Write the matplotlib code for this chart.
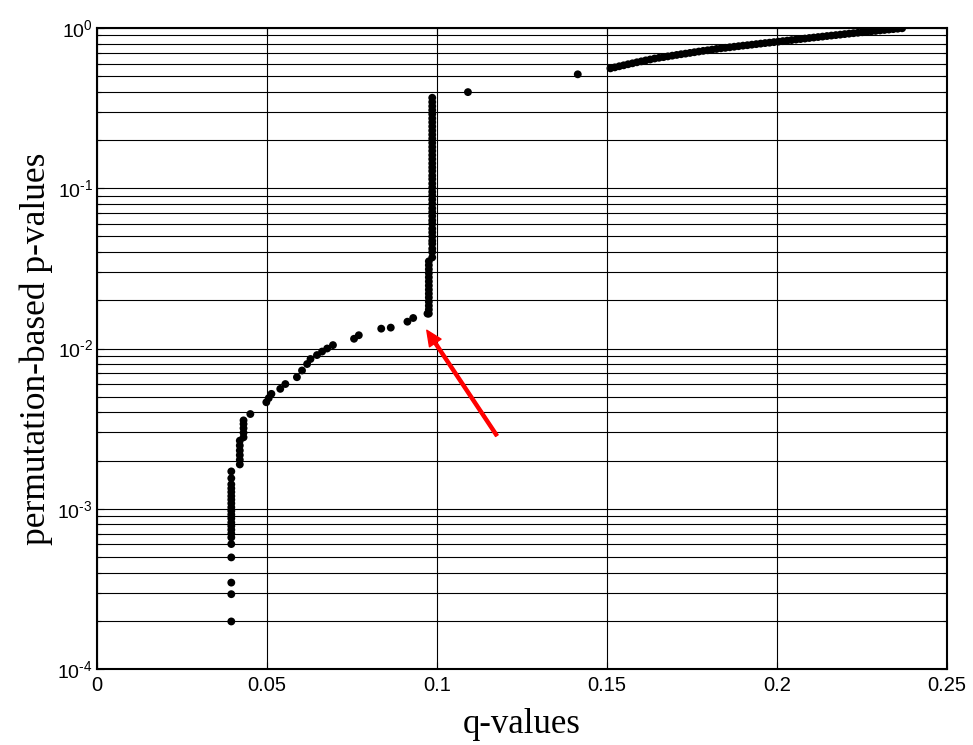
import matplotlib
matplotlib.use("Agg")
import matplotlib.pyplot as plt
from matplotlib.ticker import FixedLocator, FixedFormatter, LogLocator, NullFormatter

plt.rcParams['font.family'] = ['Liberation Sans', 'DejaVu Sans']
plt.rcParams['mathtext.fontset'] = 'custom'
plt.rcParams['mathtext.rm'] = 'Liberation Sans'
plt.rcParams['mathtext.it'] = 'Liberation Sans:italic'
plt.rcParams['mathtext.default'] = 'regular'
plt.rcParams['axes.unicode_minus'] = False

# ---- data (q-value, permutation p-value) ----
q_low = [0.0395, 0.0395, 0.0395, 0.0395, 0.0395,
         0.0395, 0.0395, 0.0395, 0.0395, 0.0395, 0.0395, 0.0395, 0.0395, 0.0395,
         0.0395, 0.0395, 0.0395, 0.0395, 0.0395, 0.0395, 0.0395, 0.0395,
         0.0420, 0.0420, 0.0420, 0.0420, 0.0420, 0.0420,
         0.0431, 0.0431, 0.0431, 0.0431, 0.0431, 0.0451]
p_low = [1.98e-4, 2.93e-4, 3.46e-4, 4.97e-4, 6.02e-4,
         6.62e-4, 7.0e-4, 7.4e-4, 7.8e-4, 8.2e-4, 8.7e-4, 9.2e-4, 9.7e-4, 1.02e-3,
         1.08e-3, 1.14e-3, 1.20e-3, 1.27e-3, 1.34e-3, 1.42e-3, 1.55e-3, 1.71e-3,
         1.89e-3, 2.02e-3, 2.16e-3, 2.31e-3, 2.48e-3, 2.66e-3,
         2.79e-3, 2.98e-3, 3.18e-3, 3.38e-3, 3.56e-3, 3.90e-3]

q_mid = [0.0498, 0.0505, 0.0513, 0.0539, 0.0554, 0.0588, 0.0603, 0.0618, 0.0628,
         0.0647, 0.0662, 0.0677, 0.0694, 0.0756, 0.0770, 0.0836, 0.0864,
         0.0913, 0.0930, 0.0972]
p_mid = [4.62e-3, 4.90e-3, 5.21e-3, 5.60e-3, 6.00e-3, 6.62e-3, 7.29e-3, 8.00e-3, 8.60e-3,
         9.10e-3, 9.57e-3, 1.00e-2, 1.05e-2, 1.15e-2, 1.21e-2, 1.33e-2, 1.35e-2,
         1.47e-2, 1.55e-2, 1.65e-2]

q_col_low = [0.0976] * 14
p_col_low = [0.0165, 0.0175, 0.0185, 0.0196, 0.0208, 0.0220, 0.0233, 0.0247,
             0.0262, 0.0278, 0.0295, 0.0312, 0.0331, 0.0350]

q_col_high = [0.0986] * 40
p_col_high = [0.367, 0.345, 0.325, 0.307, 0.290, 0.273, 0.258, 0.243, 0.229, 0.216,
              0.204, 0.192, 0.181, 0.171, 0.161, 0.152, 0.143, 0.135, 0.128, 0.120,
              0.114, 0.107, 0.101, 0.095, 0.090, 0.085, 0.080, 0.075, 0.071, 0.067,
              0.063, 0.060, 0.056, 0.053, 0.050, 0.047, 0.045, 0.042, 0.040, 0.037]

q_iso = [0.1091, 0.1414]
p_iso = [0.398, 0.514]

q_high = [0.1510, 0.1523, 0.1536, 0.1549, 0.1562, 0.1575, 0.1588, 0.1601, 0.1614, 0.1627,
          0.1640, 0.1653, 0.1666, 0.1679, 0.1692, 0.1705, 0.1718, 0.1731, 0.1744, 0.1757,
          0.1770, 0.1783, 0.1796, 0.1809, 0.1822, 0.1835, 0.1848, 0.1861, 0.1874, 0.1887,
          0.1900, 0.1913, 0.1926, 0.1939, 0.1952, 0.1965, 0.1978, 0.1991, 0.2004, 0.2017,
          0.2030, 0.2043, 0.2056, 0.2069, 0.2082, 0.2095, 0.2108, 0.2121, 0.2134, 0.2147,
          0.2160, 0.2173, 0.2186, 0.2199, 0.2212, 0.2225, 0.2238, 0.2251, 0.2264, 0.2277,
          0.2290, 0.2303, 0.2316, 0.2329, 0.2342, 0.2355, 0.2368]
p_high = [0.560, 0.568, 0.577, 0.585, 0.594, 0.602, 0.611, 0.619, 0.628, 0.636,
          0.645, 0.652, 0.658, 0.665, 0.672, 0.679, 0.686, 0.692, 0.699, 0.706,
          0.713, 0.720, 0.726, 0.733, 0.740, 0.747, 0.752, 0.758, 0.764, 0.770,
          0.776, 0.781, 0.787, 0.793, 0.799, 0.805, 0.810, 0.816, 0.822, 0.828,
          0.834, 0.841, 0.847, 0.853, 0.859, 0.866, 0.872, 0.878, 0.884, 0.891,
          0.897, 0.903, 0.909, 0.916, 0.922, 0.928, 0.934, 0.941, 0.947, 0.953,
          0.959, 0.966, 0.972, 0.978, 0.984, 0.990, 0.996]

arrow_tail = (0.1176, 2.86e-3)
arrow_head = (0.0970, 1.30e-2)

x_ticks = [0, 0.05, 0.1, 0.15, 0.2, 0.25]
x_ticklabels = ['0', '0.05', '0.1', '0.15', '0.2', '0.25']
y_ticks = [1e-4, 1e-3, 1e-2, 1e-1, 1e0]
y_ticklabels = ['$10^{\u20104}$', '$10^{\u20103}$', '$10^{\u20102}$', '$10^{\u20101}$', '$10^{0}$']

# ---- figure ----
fig = plt.figure(figsize=(9.73, 7.45), dpi=100)
ax = fig.add_axes([97/973, 76/745, 850/973, 641/745])
ax.set_yscale('log')
ax.set_xlim(0, 0.25)
ax.set_ylim(1e-4, 1e0)

all_q = q_low + q_mid + q_col_low + q_col_high + q_iso + q_high
all_p = p_low + p_mid + p_col_low + p_col_high + p_iso + p_high
ax.scatter(all_q, all_p, s=32, color='black', edgecolors='none', zorder=3)

ax.annotate('', xy=arrow_head, xytext=arrow_tail,
            arrowprops=dict(facecolor='red', edgecolor='red', width=2.2,
                            headwidth=10, headlength=11, shrink=0),
            zorder=4)

ax.xaxis.set_major_locator(FixedLocator(x_ticks))
ax.xaxis.set_major_formatter(FixedFormatter(x_ticklabels))
ax.yaxis.set_major_locator(FixedLocator(y_ticks))
ax.yaxis.set_major_formatter(FixedFormatter(y_ticklabels))
ax.yaxis.set_minor_locator(LogLocator(base=10, subs=range(2, 10), numticks=20))
ax.yaxis.set_minor_formatter(NullFormatter())

ax.grid(True, which='major', axis='both', color='black', linewidth=0.8, linestyle='-')
ax.grid(True, which='minor', axis='y', color='black', linewidth=0.8, linestyle='-')
ax.set_axisbelow(True)

ax.tick_params(which='both', direction='in', top=True, right=True, labelsize=14.5,
               width=0.8, pad=5)
ax.tick_params(axis='y', which='both', labelsize=14, pad=3)
ax.tick_params(which='major', length=5)
ax.tick_params(which='minor', length=3)
for s in ax.spines.values():
    s.set_linewidth(1.5)
    s.set_color('black')

ax.set_xlabel('q-values', fontsize=25, family=['Liberation Serif', 'DejaVu Serif'], va='baseline')
ax.xaxis.set_label_coords(0.5, (12 - 76) / 641)
ax.set_ylabel('permutation-based p-values', fontsize=25.5,
              family=['Liberation Serif', 'DejaVu Serif'], va='baseline')
ax.yaxis.set_label_coords((45 - 97) / 850, 0.5)

fig.savefig('out.png', dpi=100)
